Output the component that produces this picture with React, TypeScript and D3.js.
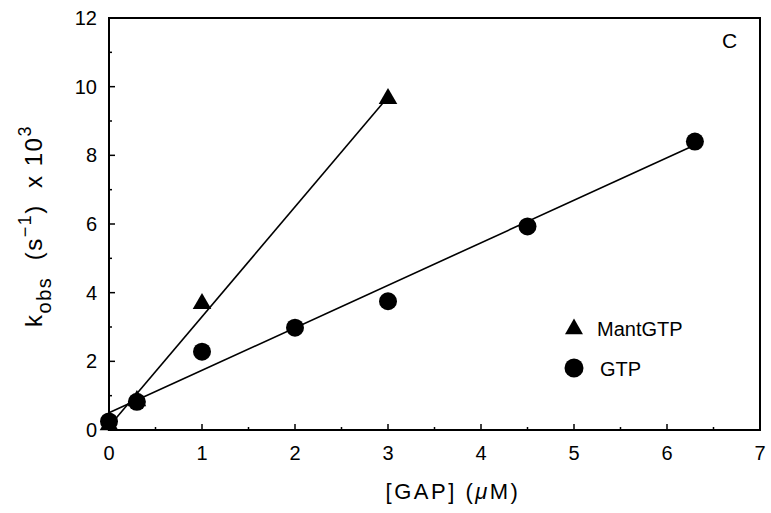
import React, { useEffect } from 'react';
import * as d3 from 'd3';

// GTP (circles) and MantGTP (triangles), k_obs x 10^3 vs [GAP]
const gtpX = [0, 0.3, 1, 2, 3, 4.5, 6.3];
const gtpY = [0.25, 0.82, 2.28, 2.98, 3.75, 5.93, 8.4];
const mantX = [0, 0.3, 1, 3];
const mantY = [0.15, 0.85, 3.68, 9.65];

// fitted lines (end points)
const gtpFit = [[0, 0.5], [6.3, 8.3]];
const mantFit = [[0, 0.1], [3, 9.7]];

const xTicks = [0, 1, 2, 3, 4, 5, 6, 7];
const xMinor = [0.5, 1.5, 2.5, 3.5, 4.5, 5.5, 6.5];
const yTicks = [0, 2, 4, 6, 8, 10, 12];
const yMinor = [1, 3, 5, 7, 9, 11];

const W = 771;
const H = 513;
const font = '"Liberation Sans", Arial, Helvetica, sans-serif';

export default function App() {
  useEffect(() => {
    document.body.style.margin = '0';
  }, []);

  const x = d3.scaleLinear().domain([0, 7]).range([109, 760]);
  const y = d3.scaleLinear().domain([0, 12]).range([430, 18]);
  const line = d3.line<number[]>().x(d => x(d[0])).y(d => y(d[1]));
  const tri = d3.symbol().type(d3.symbolTriangle).size(150)();
  const triLegend = d3.symbol().type(d3.symbolTriangle).size(140)();

  const [x0, x1] = x.range();
  const [yb, yt] = y.range();

  return (
    <svg width={W} height={H} style={{ display: 'block', background: '#fff' }} fontFamily={font}>
      {/* frame */}
      <rect x={x0} y={yt} width={x1 - x0} height={yb - yt} fill="none" stroke="#000" strokeWidth={2} />

      {/* x ticks */}
      {xTicks.map(t => (
        <g key={'xt' + t}>
          <line x1={x(t)} x2={x(t)} y1={yb} y2={yb - 6} stroke="#000" strokeWidth={1.5} />
          <text x={x(t)} y={460} textAnchor="middle" fontSize={20}>{t}</text>
        </g>
      ))}
      {xMinor.map(t => (
        <line key={'xm' + t} x1={x(t)} x2={x(t)} y1={yb} y2={yb - 3} stroke="#000" strokeWidth={1.5} />
      ))}

      {/* y ticks */}
      {yTicks.map(t => (
        <g key={'yt' + t}>
          <line x1={x0} x2={x0 + 6} y1={y(t)} y2={y(t)} stroke="#000" strokeWidth={1.5} />
          <text x={97} y={y(t) + 7} textAnchor="end" fontSize={20}>{t}</text>
        </g>
      ))}
      {yMinor.map(t => (
        <line key={'ym' + t} x1={x0} x2={x0 + 3} y1={y(t)} y2={y(t)} stroke="#000" strokeWidth={1.5} />
      ))}

      {/* fit lines */}
      <path d={line(gtpFit) || ''} fill="none" stroke="#000" strokeWidth={1.6} />
      <path d={line(mantFit) || ''} fill="none" stroke="#000" strokeWidth={1.6} />

      {/* points */}
      {mantX.map((v, i) => (
        <path key={'m' + i} d={tri || ''} transform={`translate(${x(v)},${y(mantY[i])})`} fill="#000" />
      ))}
      {gtpX.map((v, i) => (
        <circle key={'g' + i} cx={x(v)} cy={y(gtpY[i])} r={9} fill="#000" />
      ))}

      {/* legend */}
      <path d={triLegend || ''} transform="translate(574,329)" fill="#000" />
      <text x={597} y={336} fontSize={20}>MantGTP</text>
      <circle cx={574} cy={368} r={9.5} fill="#000" />
      <text x={600} y={376} fontSize={20}>GTP</text>

      {/* panel letter */}
      <text x={722} y={48} fontSize={21}>C</text>

      {/* axis titles */}
      <text x={453} y={499} textAnchor="middle" fontSize={22} letterSpacing={2.5}>
        [GAP] (<tspan fontStyle="italic">μ</tspan>M)
      </text>
      <text transform="translate(42,226) rotate(-90)" textAnchor="middle" fontSize={24} letterSpacing={1.5} xmlSpace="preserve">
        k<tspan fontSize={20} dy={9}>obs</tspan>
        <tspan dy={-9}>{'  (s'}</tspan>
        <tspan fontSize={18} dy={-11}>−1</tspan>
        <tspan dy={11}>{')  x 10'}</tspan>
        <tspan fontSize={18} dy={-11}>3</tspan>
      </text>
    </svg>
  );
}
